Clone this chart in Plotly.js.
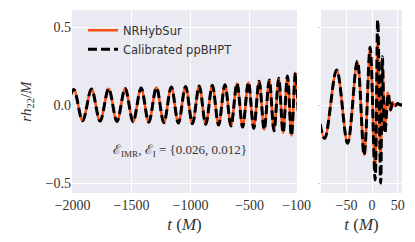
<!DOCTYPE html>
<html><head><meta charset="utf-8">
<script src="https://cdn.plot.ly/plotly-3.0.1.min.js"></script>
<style>html,body{margin:0;padding:0;background:#fff}</style>
</head><body><div id="chart" style="width:415px;height:242px"></div>
<script>
// Inspiral (left panel): extrema of Re(h22) (both waveforms overlap)
const leftT = [-2065, -1990, -1915, -1840, -1767, -1694, -1624, -1554, -1487, -1419, -1354, -1289, -1226, -1163, -1103, -1042, -984, -926, -871, -815, -762, -708, -657, -606, -558, -509, -464, -418, -375, -332, -292, -252, -215, -178, -144, -110, -77];
const leftH = [-0.100, 0.100, -0.101, 0.102, -0.103, 0.104, -0.105, 0.106, -0.108, 0.109, -0.110, 0.112, -0.113, 0.115, -0.116, 0.118, -0.120, 0.122, -0.124, 0.126, -0.128, 0.130, -0.134, 0.138, -0.141, 0.145, -0.149, 0.153, -0.157, 0.161, -0.166, 0.171, -0.178, 0.186, -0.196, 0.207, -0.22];
// Merger-ringdown (right panel)
const nrRightT = [-115, -93, -69.4, -48, -29, -15.6, -3.9, 5.5, 11, 16.5, 20.5, 25, 30.5, 35.5, 40, 45, 50, 55, 60];
const nrRightH = [0.21, -0.215, 0.225, -0.245, 0.28, -0.32, 0.365, -0.42, 0.40, -0.35, 0.25, -0.16, 0.08, -0.035, 0.02, -0.005, 0.01, 0.0, 0.005];
const bhptRightT = [-115, -93, -69.4, -48, -29, -15.6, -3.9, 5.8, 11, 16.8, 20, 25, 31.7, 36.3, 40.5, 45, 50, 55, 60];
const bhptRightH = [0.21, -0.215, 0.225, -0.245, 0.28, -0.32, 0.37, -0.48, 0.545, -0.50, 0.31, -0.18, 0.07, -0.03, 0.015, -0.005, 0.01, 0.0, 0.005];
const seriesNames = ['NRHybSur', 'Calibrated ppBHPT'];
const leftTicks = [-2000, -1500, -1000, -500, -100];
const rightTicks = [-50, 0, 50];
const yTicks = [-0.5, 0.0, 0.5];
const errText = 'ℰ<sub>IMR</sub>, ℰ<sub>I</sub> = {0.026, 0.012}';

const ORANGE = '#FF5014';
const serif = 'Liberation Serif, DejaVu Serif, serif';
const nrLine = {color: ORANGE, width: 2.5, shape: 'spline', smoothing: 1};
const bhLine = {color: '#000', width: 3, dash: '9px,4px', shape: 'spline', smoothing: 1};

const traces = [
  {x: leftT, y: leftH, xaxis: 'x', yaxis: 'y', mode: 'lines', line: nrLine, name: seriesNames[0], showlegend: true},
  {x: nrRightT, y: nrRightH, xaxis: 'x2', yaxis: 'y2', mode: 'lines', line: nrLine, name: seriesNames[0], showlegend: false},
  {x: leftT, y: leftH, xaxis: 'x', yaxis: 'y', mode: 'lines', line: bhLine, name: seriesNames[1], showlegend: true},
  {x: bhptRightT, y: bhptRightH, xaxis: 'x2', yaxis: 'y2', mode: 'lines', line: bhLine, name: seriesNames[1], showlegend: false}
];

const axCommon = {showgrid: true, gridcolor: '#fff', gridwidth: 1, zeroline: false, showline: false, ticks: '',
  tickfont: {family: serif, size: 14, color: '#333'}};

const layout = {
  width: 415, height: 242,
  margin: {l: 0, r: 0, t: 0, b: 0},
  paper_bgcolor: '#fff', plot_bgcolor: '#EAEAF2',
  showlegend: true,
  legend: {x: 0.2, y: 0.935, xanchor: 'left', yanchor: 'top', bgcolor: 'rgba(0,0,0,0)',
    font: {family: 'DejaVu Sans, sans-serif', size: 11.5, color: '#333'}, itemwidth: 30, tracegroupgap: 0},
  xaxis: Object.assign({}, axCommon, {domain: [72/415, 297/415], range: [-2005, -97], tickvals: leftTicks,
    ticktext: leftTicks.map(v => v < 0 ? '−' + Math.abs(v) : String(v)), ticklabelstandoff: 2,
    title: {text: '<i>t</i> (<i>M</i>)', font: {family: serif, size: 17, color: '#333'}, standoff: 6}}),
  xaxis2: Object.assign({}, axCommon, {domain: [321/415, 402/415], range: [-100, 58.5], tickvals: rightTicks,
    ticktext: rightTicks.map(v => v < 0 ? '−' + Math.abs(v) : String(v)), ticklabelstandoff: 2,
    title: {text: '<i>t</i> (<i>M</i>)', font: {family: serif, size: 17, color: '#333'}, standoff: 6}}),
  yaxis: Object.assign({}, axCommon, {domain: [1 - 193/242, 1 - 10/242], range: [-0.564, 0.609], tickvals: yTicks,
    ticktext: yTicks.map(v => v < 0 ? '−' + Math.abs(v).toFixed(1) : v.toFixed(1)),
    title: {text: '<i>rh</i><sub>22</sub>/<i>M</i>', font: {family: serif, size: 15, color: '#333'}, standoff: 10}}),
  yaxis2: Object.assign({}, axCommon, {domain: [1 - 193/242, 1 - 10/242], anchor: 'x2', matches: 'y', range: [-0.564, 0.609],
    tickvals: yTicks, showticklabels: false, ticks: 'outside', ticklen: 2, tickcolor: '#ccc'}),
  annotations: [{xref: 'x', yref: 'y', x: -1090, y: -0.29, text: errText, showarrow: false,
    font: {family: serif, size: 13, color: '#333'}}]
};

Plotly.newPlot('chart', traces, layout, {displayModeBar: false, staticPlot: true});
</script></body></html>
